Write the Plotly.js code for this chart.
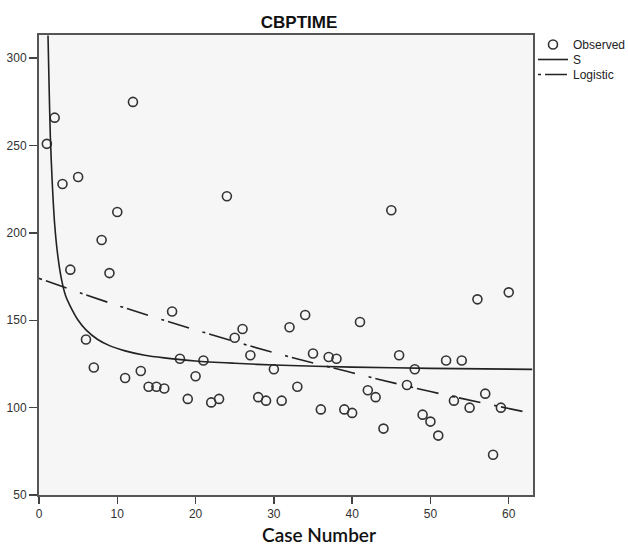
<!DOCTYPE html>
<html>
<head>
<meta charset="utf-8">
<script src="https://cdn.plot.ly/plotly-3.0.1.min.js"></script>
<style>
  html, body { margin: 0; padding: 0; background: #ffffff; }
  #chart { width: 628px; height: 547px; }
</style>
</head>
<body>
<div id="chart"></div>
<script>
// Observed values (case number 1..60)
const caseNumbers = [1,2,3,4,5,6,7,8,9,10,11,12,13,14,15,16,17,18,19,20,
  21,22,23,24,25,26,27,28,29,30,31,32,33,34,35,36,37,38,39,40,
  41,42,43,44,45,46,47,48,49,50,51,52,53,54,55,56,57,58,59,60];
const observed = [251,266,228,179,232,139,123,196,177,212,117,275,121,112,112,111,155,128,105,118,
  127,103,105,221,140,145,130,106,104,122,104,146,112,153,131,99,129,128,99,97,
  149,110,106,88,213,130,113,122,96,92,84,127,104,127,100,162,108,73,100,166];

// S model curve
const sCurveX = [1.15,1.3,1.45,1.7,2.0,2.4,2.85,3.4,4.0,5.0,6.0,7.5,9,11,13.5,16,20,25,30,40,50,63];
const sCurveY = [313,282,255,228,205,187,174,164,158,150,144.5,139,135.5,132.5,130,128.5,126.7,125.4,124.4,123.2,122.5,121.9];

// Logistic model curve
const logisticX = [0,10,20,30,40,50,63];
const logisticY = [174,158.5,144.5,131.5,120,109.2,96.7];

const chartTitle = 'CBPTIME';
const xTitle = 'Case Number';
const seriesNames = ['Observed', 'S', 'Logistic'];

const ink = '#333333';

const traces = [
  {
    x: caseNumbers, y: observed, mode: 'markers', type: 'scatter', name: seriesNames[0],
    legend: 'legend',
    marker: { symbol: 'circle-open', size: 9, color: ink, line: { width: 1.6, color: ink } },
    hoverinfo: 'skip'
  },
  {
    x: sCurveX, y: sCurveY, mode: 'lines', type: 'scatter', name: seriesNames[1],
    legend: 'legend2',
    line: { color: '#222222', width: 1.6, shape: 'spline', smoothing: 0.8 },
    hoverinfo: 'skip'
  },
  {
    x: logisticX, y: logisticY, mode: 'lines', type: 'scatter', name: seriesNames[2],
    legend: 'legend3',
    line: { color: '#222222', width: 1.6, shape: 'spline', dash: '3px,4px,22px,14px' },
    hoverinfo: 'skip'
  }
];

function legendAt(topPx) {
  return {
    xref: 'container', yref: 'container',
    x: 533 / 628, xanchor: 'left',
    y: 1 - topPx / 547, yanchor: 'top',
    font: { size: 12, color: '#222222' },
    bgcolor: 'rgba(0,0,0,0)', borderwidth: 0,
    itemwidth: 30, tracegroupgap: 0
  };
}

const layout = {
  width: 628, height: 547,
  margin: { l: 39, r: 95, t: 35, b: 52, autoexpand: false },
  paper_bgcolor: '#ffffff',
  plot_bgcolor: '#f6f6f6',
  font: { family: '"Liberation Sans", Arial, sans-serif', size: 12, color: ink },
  title: {
    text: '<b>' + chartTitle + '</b>',
    font: { family: '"Liberation Sans", Arial, sans-serif', size: 17, color: '#111111' },
    x: (299 - 39) / 494, xref: 'paper', xanchor: 'center',
    y: 1 - 22 / 547, yref: 'container', yanchor: 'middle'
  },
  xaxis: {
    range: [0, 63.1],
    tickmode: 'array', tickvals: [0,10,20,30,40,50,60],
    ticks: 'outside', ticklen: 7, tickwidth: 1.5, tickcolor: '#444444',
    showgrid: false, zeroline: false,
    showline: true, mirror: true, linecolor: '#555555', linewidth: 2,
    tickfont: { size: 12, color: ink }
  },
  yaxis: {
    range: [50, 313.3],
    tickmode: 'array', tickvals: [50,100,150,200,250,300],
    ticks: 'outside', ticklen: 8, tickwidth: 1.5, tickcolor: '#444444',
    showgrid: false, zeroline: false,
    showline: true, mirror: true, linecolor: '#555555', linewidth: 2,
    tickfont: { size: 12, color: ink }
  },
  annotations: [
    {
      text: xTitle, showarrow: false,
      xref: 'paper', yref: 'paper',
      x: (318.5 - 39) / 494, xanchor: 'center',
      y: -(534.5 - 495) / 460, yanchor: 'middle',
      borderpad: 0,
      font: { family: 'Lato, "Open Sans", sans-serif', size: 19, color: '#111111', weight: 600 }
    }
  ],
  showlegend: true,
  legend: legendAt(30),
  legend2: legendAt(45),
  legend3: legendAt(60)
};

Plotly.newPlot('chart', traces, layout, { displayModeBar: false, staticPlot: true });
</script>
</body>
</html>
